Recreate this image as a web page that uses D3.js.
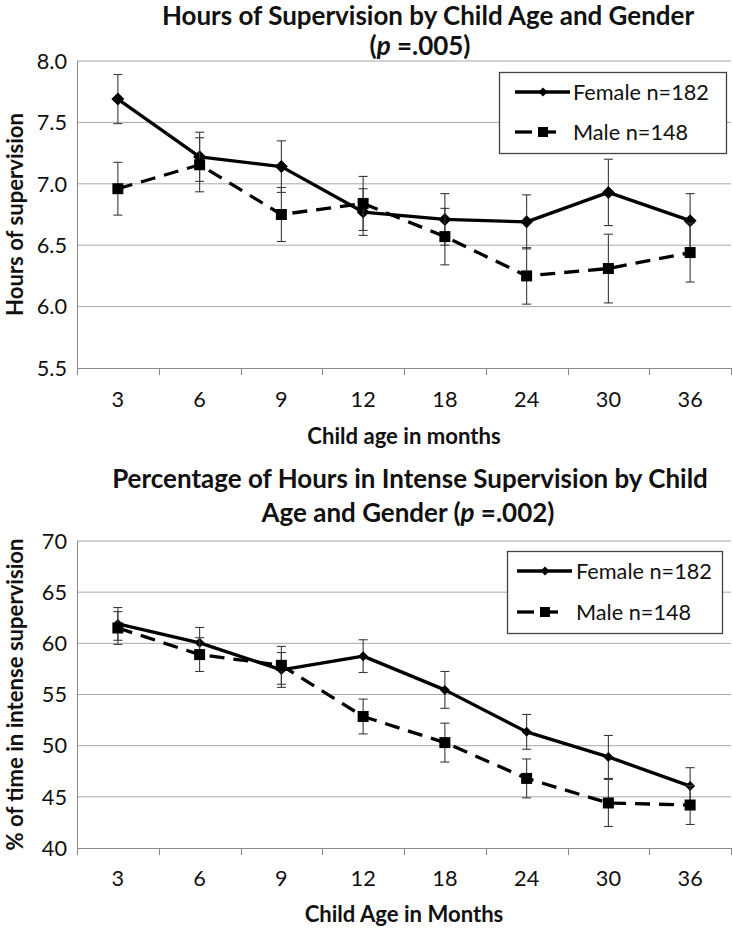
<!DOCTYPE html>
<html><head><meta charset="utf-8">
<script src="https://cdn.jsdelivr.net/npm/d3@7"></script>
<style>
body{margin:0;background:#fff}
svg{display:block}
text{font-family:Lato,"Open Sans",sans-serif;fill:#111}
</style>
</head><body>
<svg id="c" width="732" height="929"></svg>
<script>
// ---------------- data ----------------
const ages = ["3","6","9","12","18","24","30","36"];
const hoursFemale    = [7.69, 7.22, 7.14, 6.77, 6.71, 6.69, 6.93, 6.70];
const hoursFemaleErr = [0.20, 0.20, 0.21, 0.19, 0.21, 0.22, 0.27, 0.22];
const hoursMale      = [6.96, 7.155, 6.75, 6.84, 6.57, 6.25, 6.31, 6.44];
const hoursMaleErr   = [0.215, 0.22, 0.22, 0.22, 0.23, 0.23, 0.28, 0.24];
const pctFemale      = [61.9, 60.05, 57.4, 58.75, 55.45, 51.35, 48.9, 46.05];
const pctFemaleErr   = [1.6, 1.5, 1.7, 1.6, 1.8, 1.7, 2.1, 1.8];
const pctMale        = [61.5, 58.9, 57.85, 52.85, 50.3, 46.8, 44.4, 44.2];
const pctMaleErr     = [1.6, 1.65, 1.85, 1.7, 1.9, 1.9, 2.3, 1.9];
const hoursTicks = [5.5, 6.0, 6.5, 7.0, 7.5, 8.0];
const pctTicks   = [40, 45, 50, 55, 60, 65, 70];
const seriesLabels = ["Female n=182", "Male n=148"];

// ---------------- helpers ----------------
const svg = d3.select("#c");
function measure(text, weight, size){
  const t = svg.append("text").attr("font-size", size).attr("font-weight", weight).text(text);
  const w = t.node().getComputedTextLength(); t.remove(); return w;
}
function fitSize(text, weight, target){ return 20 * target / measure(text, weight, 20); }

const titleSize = fitSize("Percentage of Hours in Intense Supervision by Child", "bold", 596);
const tickSize  = fitSize("Female n=182", "normal", 136);
const axTitleSize = fitSize("% of time in intense supervision", "bold", 312);

const GRID = "#a9a9a9", AXIS = "#8a8a8a";

function diamondPath(r){ return `M0,${-r}L${r},0L0,${r}L${-r},0Z`; }

function drawChart(cfg){
  const g = svg.append("g");
  const x = d3.scaleBand().domain(ages).range([77, 731]).padding(0);
  const cx = a => x(a) + x.bandwidth()/2;
  const y = d3.scaleLinear().domain(cfg.domain).range([cfg.bottom, cfg.top]);

  // gridlines
  g.selectAll(".grid").data(cfg.ticks.slice(1)).join("line")
    .attr("x1", 77).attr("x2", 731).attr("y1", d => y(d)).attr("y2", d => y(d))
    .attr("stroke", GRID).attr("stroke-width", 1);

  // y axis line
  g.append("line").attr("x1", 77.5).attr("x2", 77.5).attr("y1", cfg.top).attr("y2", cfg.bottom + 7)
    .attr("stroke", AXIS);
  // x axis line + band ticks
  const xAxis = d3.axisBottom(x).tickSize(0).tickSizeOuter(0).tickFormat(d => d).tickPadding(0);
  const ax = g.append("g").attr("transform", `translate(0,${cfg.bottom})`).call(xAxis);
  ax.select(".domain").attr("stroke", AXIS).attr("d", "M77,0.5H731");
  ax.selectAll(".tick text").attr("font-size", tickSize).attr("fill", "#111")
    .attr("font-family", "Lato,'Open Sans',sans-serif").attr("dy", null).attr("y", cfg.tickBase - cfg.bottom);
  const bounds = ages.map(a => x(a)).concat([731]);
  g.selectAll(".bt").data(bounds.slice(1)).join("line")
    .attr("x1", d => Math.round(d) + 0.5).attr("x2", d => Math.round(d) + 0.5)
    .attr("y1", cfg.bottom).attr("y2", cfg.bottom + 7).attr("stroke", AXIS);

  // y tick labels
  g.selectAll(".yl").data(cfg.ticks).join("text")
    .attr("x", 67).attr("y", d => y(d)).attr("dy", "0.36em")
    .attr("text-anchor", "end").attr("font-size", tickSize)
    .text(d => cfg.fmt(d));

  // axis titles
  g.append("text").attr("transform", `translate(${cfg.yTitleX},${(cfg.top + cfg.bottom)/2}) rotate(-90)`)
    .attr("text-anchor", "middle").attr("font-weight", "bold").attr("font-size", axTitleSize)
    .attr("dy", "0.36em").text(cfg.yTitle);
  g.append("text").attr("x", 404).attr("y", cfg.xTitleBase).attr("text-anchor", "middle")
    .attr("font-weight", "bold").attr("font-size", axTitleSize).text(cfg.xTitle);

  // chart titles
  cfg.titleLines.forEach(L => {
    const t = g.append("text").attr("x", L.cx).attr("y", L.base).attr("text-anchor", "middle")
      .attr("font-weight", "bold").attr("font-size", titleSize);
    L.parts.forEach(p => t.append("tspan").attr("font-style", p.i ? "italic" : null).text(p.t));
  });

  // series
  const series = [
    {vals: cfg.female, err: cfg.femaleErr, dash: null, marker: "diamond"},
    {vals: cfg.male, err: cfg.maleErr, dash: "15,9", marker: "square"}
  ];
  series.forEach(s => {
    const pts = ages.map((a, i) => ({a, v: s.vals[i], e: s.err[i]}));
    const sg = g.append("g");
    // error bars
    const eb = sg.selectAll(".eb").data(pts).join("g");
    eb.append("line").attr("x1", d => cx(d.a)).attr("x2", d => cx(d.a))
      .attr("y1", d => y(d.v - d.e)).attr("y2", d => y(d.v + d.e));
    eb.append("line").attr("x1", d => cx(d.a) - 4.5).attr("x2", d => cx(d.a) + 4.5)
      .attr("y1", d => y(d.v + d.e)).attr("y2", d => y(d.v + d.e));
    eb.append("line").attr("x1", d => cx(d.a) - 4.5).attr("x2", d => cx(d.a) + 4.5)
      .attr("y1", d => y(d.v - d.e)).attr("y2", d => y(d.v - d.e));
    eb.selectAll("line").attr("stroke", "#3a3a3a").attr("stroke-width", 1.1);
    // line
    sg.append("path").datum(pts)
      .attr("d", d3.line().x(d => cx(d.a)).y(d => y(d.v)))
      .attr("fill", "none").attr("stroke", "#000").attr("stroke-width", 3.3)
      .attr("stroke-dasharray", s.dash).attr("stroke-linejoin", "round");
    // markers
    sg.selectAll(".mk").data(pts).join("path")
      .attr("transform", d => `translate(${cx(d.a)},${y(d.v)})`)
      .attr("d", s.marker === "diamond" ? diamondPath(cfg.diamondR) : "M-5.5,-5.5H5.5V5.5H-5.5Z")
      .attr("fill", "#000");
  });

  // legend
  const L = cfg.legend;
  const lg = g.append("g");
  lg.append("rect").attr("x", L.x + 0.5).attr("y", L.y + 0.5).attr("width", L.w).attr("height", L.h)
    .attr("fill", "#fff").attr("stroke", "#444").attr("stroke-width", 1.3);
  const rows = [L.y + L.r1, L.y + L.r2];
  // female sample
  lg.append("line").attr("x1", L.lx).attr("x2", L.lx + 55).attr("y1", rows[0]).attr("y2", rows[0])
    .attr("stroke", "#000").attr("stroke-width", 3.3);
  lg.append("path").attr("transform", `translate(${L.lx + 28},${rows[0]})`).attr("d", diamondPath(4.5)).attr("fill", "#000");
  // male sample
  lg.append("line").attr("x1", L.lx).attr("x2", L.lx + 17).attr("y1", rows[1]).attr("y2", rows[1])
    .attr("stroke", "#000").attr("stroke-width", 3.3);
  lg.append("line").attr("x1", L.lx + 28).attr("x2", L.lx + 41).attr("y1", rows[1]).attr("y2", rows[1])
    .attr("stroke", "#000").attr("stroke-width", 3.3);
  lg.append("path").attr("transform", `translate(${L.lx + 28},${rows[1]})`).attr("d", "M-5,-5H5V5H-5Z").attr("fill", "#000");
  seriesLabels.forEach((t, i) => lg.append("text").attr("x", L.tx).attr("y", rows[i]).attr("dy", "0.36em")
    .attr("font-size", tickSize).text(t));
}

drawChart({
  domain: [5.5, 8], top: 61, bottom: 368, ticks: hoursTicks, fmt: d3.format(".1f"),
  female: hoursFemale, femaleErr: hoursFemaleErr, male: hoursMale, maleErr: hoursMaleErr,
  diamondR: 6.5, tickBase: 407, xTitleBase: 444, yTitleX: 15,
  yTitle: "Hours of supervision", xTitle: "Child age in months",
  titleLines: [
    {cx: 428, base: 25, parts: [{t: "Hours of Supervision by Child Age and Gender"}]},
    {cx: 420, base: 55, parts: [{t: "("}, {t: "p", i: true}, {t: " =.005)"}]}
  ],
  legend: {x: 499, y: 72, w: 227, h: 81, r1: 20, r2: 60, lx: 515, tx: 573}
});

drawChart({
  domain: [40, 70], top: 541, bottom: 848, ticks: pctTicks, fmt: d3.format("d"),
  female: pctFemale, femaleErr: pctFemaleErr, male: pctMale, maleErr: pctMaleErr,
  diamondR: 5, tickBase: 886, xTitleBase: 922, yTitleX: 15,
  yTitle: "% of time in intense supervision", xTitle: "Child Age in Months",
  titleLines: [
    {cx: 410, base: 488, parts: [{t: "Percentage of Hours in Intense Supervision by Child"}]},
    {cx: 408, base: 522, parts: [{t: "Age and Gender ("}, {t: "p", i: true}, {t: " =.002)"}]}
  ],
  legend: {x: 507, y: 551, w: 215, h: 82, r1: 20, r2: 61, lx: 517, tx: 576}
});
</script>
</body></html>
